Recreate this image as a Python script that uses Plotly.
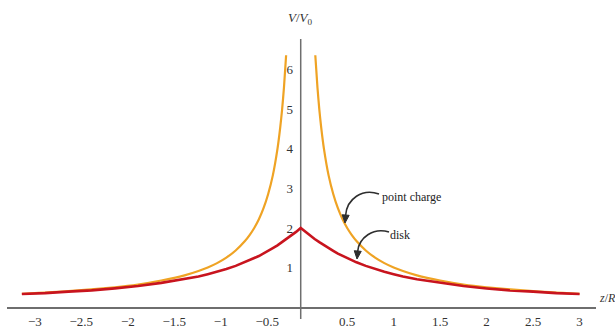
import math
import plotly.graph_objects as go

# --- data ---
disk_z = [-3.0, -2.75, -2.5, -2.25, -2.0, -1.75, -1.5, -1.25, -1.1, -1.0, -0.9, -0.8, -0.7, -0.6, -0.5,
          -0.45, -0.4, -0.35, -0.3, -0.25, -0.2, -0.15, -0.1, -0.05, 0.0,
          0.05, 0.1, 0.15, 0.2, 0.25, 0.3, 0.35, 0.4, 0.45, 0.5, 0.6, 0.7, 0.8, 0.9, 1.0, 1.1, 1.25,
          1.5, 1.75, 2.0, 2.25, 2.5, 2.75, 3.0]
disk_v = [0.33, 0.35, 0.39, 0.42, 0.47, 0.53, 0.61, 0.70, 0.77, 0.83, 0.89, 0.96, 1.04, 1.13, 1.24,
          1.29, 1.35, 1.42, 1.49, 1.56, 1.64, 1.72, 1.81, 1.90, 2.00,
          1.90, 1.81, 1.72, 1.64, 1.56, 1.49, 1.42, 1.35, 1.29, 1.24, 1.13, 1.04, 0.96, 0.89, 0.83, 0.77, 0.70,
          0.61, 0.53, 0.47, 0.42, 0.39, 0.35, 0.33]

pc_left_z = [-3.0, -2.5, -2.0, -1.75, -1.5, -1.25, -1.1, -1.0, -0.9, -0.8, -0.7, -0.6, -0.55, -0.5,
             -0.45, -0.4, -0.35, -0.3, -0.25, -0.22, -0.2, -0.18, -0.157]
pc_left_v = [0.33, 0.40, 0.50, 0.57, 0.67, 0.80, 0.91, 1.00, 1.11, 1.25, 1.43, 1.67, 1.82, 2.00,
             2.22, 2.50, 2.86, 3.33, 4.00, 4.55, 5.00, 5.56, 6.37]
pc_right_z = [0.157, 0.18, 0.2, 0.22, 0.25, 0.3, 0.35, 0.4, 0.45, 0.5, 0.55, 0.6, 0.7, 0.8, 0.9,
              1.0, 1.1, 1.25, 1.5, 1.75, 2.0, 2.5, 3.0]
pc_right_v = [6.37, 5.56, 5.00, 4.55, 4.00, 3.33, 2.86, 2.50, 2.22, 2.00, 1.82, 1.67, 1.43, 1.25, 1.11,
              1.00, 0.91, 0.80, 0.67, 0.57, 0.50, 0.40, 0.33]

x_ticks = [-3, -2.5, -2, -1.5, -1, -0.5, 0.5, 1, 1.5, 2, 2.5, 3]
x_tick_labels = ["\u22123", "\u22122.5", "\u22122", "\u22121.5", "\u22121", "\u22120.5",
                 "0.5", "1", "1.5", "2", "2.5", "3"]
y_ticks = [1, 2, 3, 4, 5, 6]

X_RANGE = [-3.16, 3.177]
Y_RANGE = [0, 6.78]

W, H = 615, 331
ML, MR, MT, MB = 7, 19, 39, 24
PW, PH = W - ML - MR, H - MT - MB
SX = PW / (X_RANGE[1] - X_RANGE[0])
SY = PH / (Y_RANGE[1] - Y_RANGE[0])

ORANGE = "#EFA324"
RED = "#C8141E"
AXIS = "#6E6E6E"
ARROW = "#2E2E2E"
FONT = "Liberation Serif"

# in the reference the negative labels sit a little right of their ticks
x_tick_text = [("\u00a0" * 8 + t) if v < 0 else t for v, t in zip(x_ticks, x_tick_labels)]


def to_data(px, py):
    """pixel position -> data coordinates (for annotation decorations only)"""
    return X_RANGE[0] + (px - ML) / SX, Y_RANGE[0] + (H - MB - py) / SY


fig = go.Figure()
fig.add_trace(go.Scatter(x=pc_left_z, y=pc_left_v, mode="lines",
                         line=dict(color=ORANGE, width=2.2, shape="spline", smoothing=0.6),
                         hoverinfo="skip", showlegend=False))
fig.add_trace(go.Scatter(x=pc_right_z, y=pc_right_v, mode="lines",
                         line=dict(color=ORANGE, width=2.2, shape="spline", smoothing=0.6),
                         hoverinfo="skip", showlegend=False))
fig.add_trace(go.Scatter(x=disk_z, y=disk_v, mode="lines",
                         line=dict(color=RED, width=2.6),
                         hoverinfo="skip", showlegend=False))

x0_paper = (0 - X_RANGE[0]) / (X_RANGE[1] - X_RANGE[0])

# vertical axis line (extends a little below the horizontal axis)
fig.add_shape(type="line", xref="paper", yref="paper", x0=x0_paper, x1=x0_paper,
              y0=-0.045, y1=1.0, line=dict(color=AXIS, width=1.5), layer="below")


def curved_arrow(p0, c1, c2, tip, head_len=8, head_half=3.5):
    dx, dy = tip[0] - c2[0], tip[1] - c2[1]
    n = math.hypot(dx, dy)
    ux, uy = dx / n, dy / n
    base = (tip[0] - ux * head_len, tip[1] - uy * head_len)
    b1 = (base[0] - uy * head_half, base[1] + ux * head_half)
    b2 = (base[0] + uy * head_half, base[1] - ux * head_half)
    pts = [to_data(*p) for p in (p0, c1, c2, base)]
    path = "M {:.4f} {:.4f} C {:.4f} {:.4f} {:.4f} {:.4f} {:.4f} {:.4f}".format(
        *pts[0], *pts[1], *pts[2], *pts[3])
    fig.add_shape(type="path", xref="x", yref="y", path=path,
                  line=dict(color=ARROW, width=1.6))
    tri = [to_data(*p) for p in (tip, b1, b2)]
    tpath = "M {:.4f} {:.4f} L {:.4f} {:.4f} L {:.4f} {:.4f} Z".format(*tri[0], *tri[1], *tri[2])
    fig.add_shape(type="path", xref="x", yref="y", path=tpath,
                  line=dict(color=ARROW, width=1), fillcolor=ARROW)


curved_arrow((379, 194), (362, 188), (347, 199), (345, 223))
curved_arrow((389, 232), (373, 227), (359, 238), (357, 259))

fig.add_annotation(x=to_data(411, 0)[0], y=to_data(0, 197)[1], xref="x", yref="y",
                   text="point charge", showarrow=False,
                   font=dict(family=FONT, size=12, color="#222222"))
fig.add_annotation(x=to_data(400, 0)[0], y=to_data(0, 235)[1], xref="x", yref="y",
                   text="disk", showarrow=False,
                   font=dict(family=FONT, size=12, color="#222222"))

# axis titles
fig.add_annotation(x=x0_paper, y=1.0, xref="paper", yref="paper", yanchor="bottom",
                   text="<i>V</i>/<i>V</i><sub>0</sub>", showarrow=False, yshift=10,
                   font=dict(family=FONT, size=13, color="#333333"))
fig.add_annotation(x=1.0, y=0.0, xref="paper", yref="paper", xanchor="left",
                   text="<i>z</i>/<i>R</i>", showarrow=False, xshift=1,
                   font=dict(family=FONT, size=12, color="#333333"))

fig.update_layout(
    width=W, height=H,
    margin=dict(l=ML, r=MR, t=MT, b=MB, autoexpand=False),
    paper_bgcolor="white", plot_bgcolor="white",
    font=dict(family=FONT, size=13, color="#333333"),
    xaxis=dict(range=X_RANGE, showgrid=False, zeroline=False, showline=True, automargin=False,
               linecolor=AXIS, linewidth=1.5, tickvals=x_ticks, ticktext=x_tick_text,
               tickangle=0,
               ticks="outside", ticklen=2, tickcolor="rgba(0,0,0,0)",
               tickfont=dict(family=FONT, size=13, color="#333333")),
    yaxis=dict(range=Y_RANGE, showgrid=False, zeroline=False, showline=False, automargin=False,
               anchor="free", position=x0_paper, tickvals=y_ticks,
               ticks="outside", ticklen=5, tickcolor="rgba(0,0,0,0)",
               tickfont=dict(family=FONT, size=13, color="#333333")),
)

fig.write_html("out.html", config={"displayModeBar": False},
               post_script="document.body.style.margin='0';")
